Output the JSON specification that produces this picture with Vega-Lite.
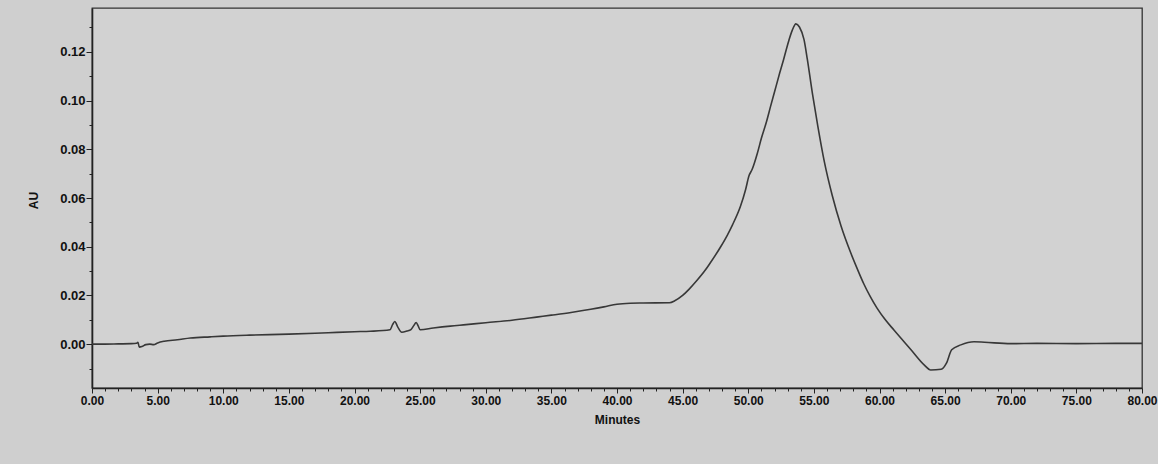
{
  "$schema": "https://vega.github.io/schema/vega-lite/v6.json",
  "width": 1050,
  "height": 380,
  "autosize": {"type": "none"},
  "padding": {"left": 92, "top": 8, "right": 16, "bottom": 76},
  "background": "#cfcfcf",
  "view": {"stroke": "#333333", "strokeWidth": 1.3, "fill": "#d2d2d2"},
  "config": {
    "font": "Liberation Sans",
    "axis": {"labelFont": "Liberation Sans", "titleFont": "Liberation Sans", "labelColor": "#111111", "titleColor": "#111111", "domainColor": "#222222", "tickColor": "#222222", "grid": false}
  },
  "data": {"values": [
    {"t": 0, "au": 0.0}, {"t": 1, "au": 0.0}, {"t": 2, "au": 0.0001}, {"t": 3, "au": 0.0002},
    {"t": 3.4, "au": 0.0004}, {"t": 3.5, "au": 0.0008}, {"t": 3.6, "au": -0.0012}, {"t": 3.8, "au": -0.001},
    {"t": 4.1, "au": -0.0002}, {"t": 4.4, "au": 0.0}, {"t": 4.7, "au": -0.0002}, {"t": 5.0, "au": 0.0005},
    {"t": 5.5, "au": 0.0012}, {"t": 6.5, "au": 0.0018}, {"t": 7.5, "au": 0.0025}, {"t": 9, "au": 0.003},
    {"t": 10, "au": 0.0033}, {"t": 12, "au": 0.0037}, {"t": 15, "au": 0.0041}, {"t": 18, "au": 0.0047},
    {"t": 20, "au": 0.0051}, {"t": 21.2, "au": 0.0053}, {"t": 22.7, "au": 0.0059}, {"t": 22.9, "au": 0.008},
    {"t": 23.07, "au": 0.0093}, {"t": 23.3, "au": 0.007}, {"t": 23.6, "au": 0.0049}, {"t": 24.0, "au": 0.0054},
    {"t": 24.3, "au": 0.006}, {"t": 24.5, "au": 0.0075}, {"t": 24.7, "au": 0.0089}, {"t": 24.85, "au": 0.0075},
    {"t": 25.0, "au": 0.0059}, {"t": 26, "au": 0.0066}, {"t": 27.3, "au": 0.0074}, {"t": 28.5, "au": 0.008},
    {"t": 30, "au": 0.0088}, {"t": 32, "au": 0.0098}, {"t": 34, "au": 0.0112}, {"t": 35, "au": 0.0119},
    {"t": 36.5, "au": 0.013}, {"t": 38, "au": 0.0143}, {"t": 39, "au": 0.0153}, {"t": 40, "au": 0.0164},
    {"t": 41, "au": 0.0168}, {"t": 42, "au": 0.0169}, {"t": 44, "au": 0.017}, {"t": 44.4, "au": 0.0178},
    {"t": 45.0, "au": 0.02}, {"t": 45.5, "au": 0.0226}, {"t": 46.1, "au": 0.0262}, {"t": 46.7, "au": 0.0302},
    {"t": 47.1, "au": 0.0333}, {"t": 47.9, "au": 0.04}, {"t": 48.4, "au": 0.0447}, {"t": 48.8, "au": 0.049},
    {"t": 49.4, "au": 0.0565}, {"t": 49.8, "au": 0.0635}, {"t": 50.05, "au": 0.069}, {"t": 50.3, "au": 0.0718},
    {"t": 50.7, "au": 0.0785}, {"t": 51.0, "au": 0.0845}, {"t": 51.4, "au": 0.0915}, {"t": 51.7, "au": 0.0976},
    {"t": 52.0, "au": 0.1035}, {"t": 52.4, "au": 0.1114}, {"t": 52.7, "au": 0.117}, {"t": 53.1, "au": 0.1248},
    {"t": 53.35, "au": 0.1288}, {"t": 53.63, "au": 0.1315}, {"t": 53.9, "au": 0.1302}, {"t": 54.25, "au": 0.125},
    {"t": 54.5, "au": 0.117}, {"t": 54.9, "au": 0.1025}, {"t": 55.3, "au": 0.0895}, {"t": 55.8, "au": 0.0748},
    {"t": 56.4, "au": 0.061}, {"t": 57.07, "au": 0.0485}, {"t": 57.8, "au": 0.0376}, {"t": 58.3, "au": 0.031},
    {"t": 58.8, "au": 0.0248}, {"t": 59.3, "au": 0.0195}, {"t": 59.8, "au": 0.0149}, {"t": 60.4, "au": 0.0103},
    {"t": 61.1, "au": 0.0058}, {"t": 62.4, "au": -0.0023}, {"t": 63.4, "au": -0.0085}, {"t": 63.9, "au": -0.0106},
    {"t": 64.7, "au": -0.0103}, {"t": 65.1, "au": -0.0078}, {"t": 65.5, "au": -0.0023}, {"t": 66.2, "au": -0.0003},
    {"t": 67.2, "au": 0.001}, {"t": 68, "au": 0.0008}, {"t": 70, "au": 0.0002}, {"t": 72, "au": 0.0003},
    {"t": 75, "au": 0.0002}, {"t": 78, "au": 0.0003}, {"t": 80, "au": 0.0003}
  ]},
  "mark": {"type": "line", "color": "#383838", "strokeWidth": 1.6, "interpolate": "monotone"},
  "encoding": {
    "x": {
      "field": "t", "type": "quantitative",
      "scale": {"domain": [0, 80], "nice": false, "zero": false},
      "axis": {
        "title": "Minutes", "titleFontSize": 12, "titleFontWeight": "bold", "titlePadding": 8,
        "values": [0,1,2,3,4,5,6,7,8,9,10,11,12,13,14,15,16,17,18,19,20,21,22,23,24,25,26,27,28,29,30,31,32,33,34,35,36,37,38,39,40,41,42,43,44,45,46,47,48,49,50,51,52,53,54,55,56,57,58,59,60,61,62,63,64,65,66,67,68,69,70,71,72,73,74,75,76,77,78,79,80],
        "labelExpr": "datum.value % 5 == 0 ? format(datum.value, '.2f') : ''",
        "labelFontSize": 12, "labelFontWeight": "bold", "labelPadding": 2, "labelFlush": false, "labelOverlap": false,
        "tickSize": {"condition": {"test": "datum.value % 5 == 0", "value": 5}, "value": 3},
        "domainWidth": 1.6, "tickWidth": 1
      }
    },
    "y": {
      "field": "au", "type": "quantitative",
      "scale": {"domain": [-0.018, 0.138], "nice": false, "zero": false},
      "axis": {
        "title": "AU", "titleFontSize": 12, "titleFontWeight": "bold", "titleX": -52, "titleY": 192,
        "values": [-0.01, 0, 0.01, 0.02, 0.03, 0.04, 0.05, 0.06, 0.07, 0.08, 0.09, 0.1, 0.11, 0.12, 0.13],
        "labelExpr": "round(datum.value * 100) % 2 == 0 ? format(datum.value, '.2f') : ''",
        "labelFontSize": 13, "labelFontWeight": "bold", "labelPadding": 1, "labelOverlap": false,
        "tickSize": {"condition": {"test": "round(datum.value * 100) % 2 == 0", "value": 6}, "value": 3},
        "domainWidth": 1.6, "tickWidth": 1
      }
    }
  }
}
